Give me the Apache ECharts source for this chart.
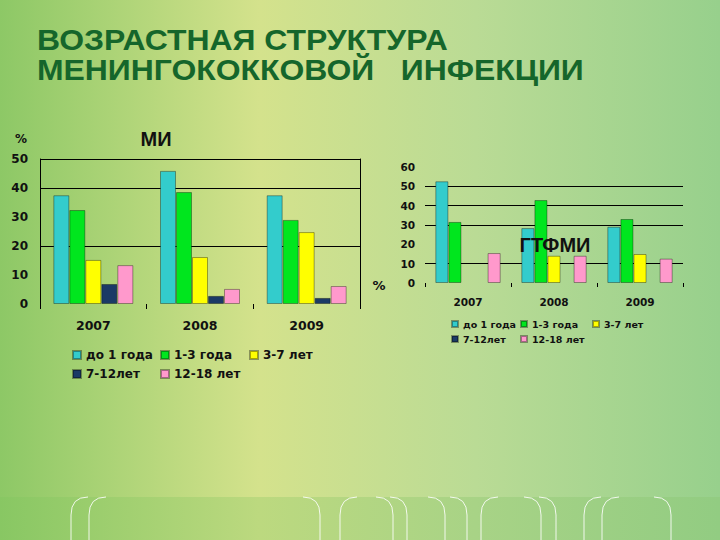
<!DOCTYPE html>
<html>
<head>
<meta charset="utf-8">
<script src="https://cdn.jsdelivr.net/npm/echarts@6/dist/echarts.min.js"></script>
<style>
  html, body { margin: 0; padding: 0; background: #b8d97e; }
  #main { width: 720px; height: 540px; }
</style>
</head>
<body>
<div id="main"></div>
<script>
// ---------- data ----------
const categories = ['2007', '2008', '2009'];
const ageGroups = ['до 1 года', '1-3 года', '3-7 лет', '7-12лет', '12-18 лет'];

// МИ (left chart), %
const miUnder1 = [37.5, 45.9, 37.5];
const mi1to3   = [32.4, 38.6, 29.0];
const mi3to7   = [15.2, 16.2, 24.8];
const mi7to12  = [6.9, 2.8, 2.1];
const mi12to18 = [13.4, 5.2, 6.2];

// ГТФМИ (right chart), %
const gUnder1 = [52.6, 28.4, 29.1];
const g1to3   = [31.6, 42.9, 33.1];
const g3to7   = [null, 14.1, 15.0];
const g7to12  = [null, null, null];
const g12to18 = [15.5, 14.1, 12.6];

// axis scales and gridline values
const miAxisMax = 50, miAxisStep = 10;
const gAxisMax = 60, gAxisStep = 10;
const miGridLines = [20, 40, 50];
const gGridLines = [10, 30, 40, 50];

// texts
const titleLine1 = 'ВОЗРАСТНАЯ СТРУКТУРА';
const titleLine2 = 'МЕНИНГОКОККОВОЙ   ИНФЕКЦИИ';

// ---------- styles ----------
const colors = ['#33CCCC', '#00E61E', '#FFFF00', '#1B3A66', '#FF99CC'];
const numFont = 'DejaVu Sans';
const headFont = 'Liberation Sans';
const ink = '#111111';

const miData = [miUnder1, mi1to3, mi3to7, mi7to12, mi12to18];
const gData = [gUnder1, g1to3, g3to7, g7to12, g12to18];

function gridMarkLine(values) {
  return {
    silent: true,
    z: 1,
    symbol: ['none', 'none'],
    label: { show: false },
    animation: false,
    lineStyle: { color: '#000', width: 1, type: 'solid' },
    emphasis: { disabled: true },
    data: values.map(v => ({ yAxis: v }))
  };
}

const series = [];
ageGroups.forEach((name, i) => {
  const s = {
    type: 'bar', name, xAxisIndex: 0, yAxisIndex: 0, z: 2,
    data: miData[i],
    barGap: '0%', barCategoryGap: '25%',
    itemStyle: { color: colors[i], borderColor: 'rgba(0,0,0,0.35)', borderWidth: 1 },
    emphasis: { disabled: true },
    animation: false
  };
  if (i === 0) s.markLine = gridMarkLine(miGridLines);
  series.push(s);
});
ageGroups.forEach((name, i) => {
  const s = {
    type: 'bar', name, xAxisIndex: 1, yAxisIndex: 2, z: 2,
    data: gData[i],
    barGap: '0%', barCategoryGap: '24%',
    itemStyle: { color: colors[i], borderColor: 'rgba(0,0,0,0.35)', borderWidth: 1 },
    emphasis: { disabled: true },
    animation: false
  };
  if (i === 0) s.markLine = gridMarkLine(gGridLines);
  series.push(s);
});

function legendAt(name, left, top, icon, fontSize) {
  return {
    data: [name], left, top, padding: 0, itemGap: 0,
    itemWidth: icon, itemHeight: icon, icon: 'rect', selectedMode: false,
    textStyle: { fontFamily: numFont, fontWeight: 'bold', fontSize, lineHeight: Math.round(fontSize + 2), color: ink }
  };
}
const legends = [
  legendAt(ageGroups[0], 72, 348, 8, 12),
  legendAt(ageGroups[1], 160, 348, 8, 12),
  legendAt(ageGroups[2], 249, 348, 8, 12),
  legendAt(ageGroups[3], 72, 367, 8, 12),
  legendAt(ageGroups[4], 160, 367, 8, 12),
  legendAt(ageGroups[0], 451, 318, 6, 9.5),
  legendAt(ageGroups[1], 520, 318, 6, 9.5),
  legendAt(ageGroups[2], 592, 318, 6, 9.5),
  legendAt(ageGroups[3], 451, 333, 6, 9.5),
  legendAt(ageGroups[4], 520, 333, 6, 9.5)
];

// decorative arches at the bottom of the slide: [x, direction]
const arches = [[71, 1], [89, 1], [320, -1], [340, 1], [393, -1], [407, -1], [445, -1],
                [467, -1], [481, 1], [541, -1], [556, -1], [584, 1], [602, 1], [671, -1]];
const archStyle = { fill: 'none', stroke: 'rgba(255,255,255,0.85)', lineWidth: 1 };
const archGraphics = [];
arches.forEach(([x, d]) => {
  archGraphics.push({
    type: 'line', silent: true, z: -5,
    shape: { x1: x, y1: 541, x2: x, y2: 515 },
    style: archStyle
  });
  archGraphics.push({
    type: 'bezierCurve', silent: true, z: -5,
    shape: { x1: x, y1: 515, cpx1: x, cpy1: 497, x2: x + d * 17, y2: 497 },
    style: archStyle
  });
});

function label(text, x, y, font, size, color, align, scaleX) {
  return {
    type: 'text', x, y, silent: true, z: 10, scaleX: scaleX || 1,
    style: { text, x: 0, y: 0, align: align || 'center', verticalAlign: 'middle',
             fontFamily: font, fontWeight: 'bold', fontSize: size, fill: color || ink }
  };
}

const titleColor = '#15662B';
const option = {
  animation: false,
  graphic: [
    {
      type: 'rect', silent: true, z: -10,
      shape: { x: 0, y: 0, width: 720, height: 540 },
      style: {
        fill: new echarts.graphic.LinearGradient(0, 0, 1, 0, [
          { offset: 0, color: '#8DC866' },
          { offset: 0.36, color: '#D4E28C' },
          { offset: 0.66, color: '#BADB95' },
          { offset: 1, color: '#97D08C' }
        ])
      }
    },
    {
      type: 'rect', silent: true, z: -9,
      shape: { x: 0, y: 497, width: 720, height: 43 },
      style: {
        fill: new echarts.graphic.LinearGradient(0, 0, 1, 0, [
          { offset: 0, color: '#88C763' },
          { offset: 0.36, color: '#BCD97F' },
          { offset: 0.66, color: '#A8D386' },
          { offset: 1, color: '#92CC82' }
        ])
      }
    },
    ...archGraphics,
    label(titleLine1, 37, 39.5, headFont, 29, titleColor, 'left', 1.1),
    label(titleLine2, 37, 70, headFont, 29, titleColor, 'left', 1.1),
    label('МИ', 156, 139, headFont, 20),
    label('%', 21, 139, numFont, 12),
    label('%', 379, 285, numFont, 13),
    label('ГТФМИ', 555, 245, headFont, 20)
  ],
  legend: legends,
  grid: [
    { left: 40, right: 360, top: 159, bottom: 236 },
    { left: 425, right: 37, top: 167, bottom: 257 }
  ],
  xAxis: [
    {
      type: 'category', gridIndex: 0, data: categories,
      axisLine: { show: false },
      axisTick: { show: true, length: 5, lineStyle: { color: '#000' } },
      axisLabel: { margin: 15, color: ink, fontFamily: numFont, fontWeight: 'bold', fontSize: 12.5 }
    },
    {
      type: 'category', gridIndex: 1, data: categories,
      axisLine: { show: false },
      axisTick: { show: true, length: 4, lineStyle: { color: '#000' } },
      axisLabel: { margin: 13, color: ink, fontFamily: numFont, fontWeight: 'bold', fontSize: 10.5 }
    }
  ],
  yAxis: [
    {
      type: 'value', gridIndex: 0, min: 0, max: miAxisMax, interval: miAxisStep,
      axisLine: { show: true, lineStyle: { color: '#000' } },
      axisTick: { show: false },
      splitLine: { show: false },
      axisLabel: { margin: 12, color: ink, fontFamily: numFont, fontWeight: 'bold', fontSize: 12 }
    },
    {
      type: 'value', gridIndex: 0, position: 'right', min: 0, max: miAxisMax, interval: miAxisStep,
      axisLine: { show: true, lineStyle: { color: '#000' } },
      axisTick: { show: false },
      splitLine: { show: false },
      axisLabel: { show: false }
    },
    {
      type: 'value', gridIndex: 1, min: 0, max: gAxisMax, interval: gAxisStep,
      axisLine: { show: false },
      axisTick: { show: false },
      splitLine: { show: false },
      axisLabel: { margin: 10, color: ink, fontFamily: numFont, fontWeight: 'bold', fontSize: 10.5 }
    }
  ],
  series
};

const chart = echarts.init(document.getElementById('main'), null, { renderer: 'svg' });
chart.setOption(option);
</script>
</body>
</html>
